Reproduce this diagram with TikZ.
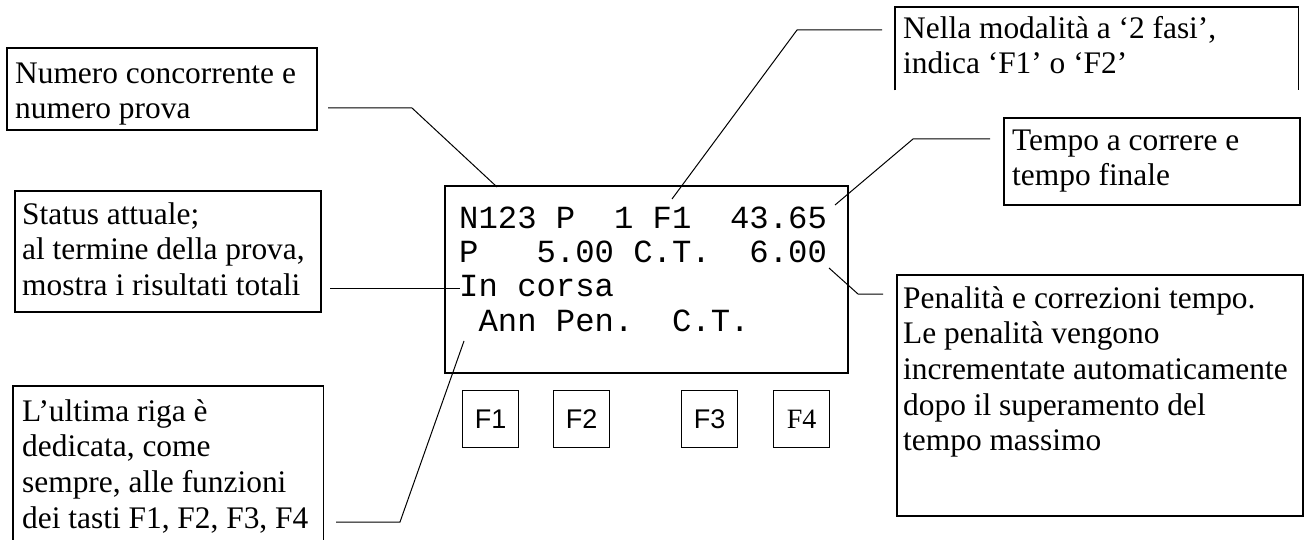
\documentclass[tikz,border=0pt]{standalone}
\usepackage{fontspec}
\setmainfont{Liberation Serif}
\newfontfamily\dispfont{Liberation Mono}
\newfontfamily\keyfont{Liberation Sans}
\usetikzlibrary{calc}
\tikzset{
  lbl/.style={anchor=north west, inner sep=0pt, align=left, font=\fontsize{31.4}{35.6}\selectfont},
  frame/.style={line width=1.8pt},
  boxnode/.style={anchor=north west, inner sep=0pt},
  lead/.style={draw, line width=1pt},
  disp/.style={draw, line width=1.6pt, anchor=north west, inner sep=0pt, minimum width=403pt, minimum height=187pt},
  disptext/.style={anchor=north west, inner sep=0pt, align=left, font=\dispfont\fontsize{32.25}{34.33}\selectfont},
  keybox/.style={draw, line width=1.4pt, anchor=north west, inner sep=0pt, minimum width=56pt, minimum height=57pt, font=\keyfont\fontsize{27}{30}\selectfont},
  keyboxserif/.style={keybox, font=\fontsize{28}{30}\selectfont}
}
\newcommand{\fstrut}{\rule{0pt}{24pt}}
\newcommand{\dstrut}{\rule{0pt}{26pt}}
\begin{document}
\begin{tikzpicture}[x=1pt, y=-1pt]
\useasboundingbox (0,0) rectangle (1306,540);

% Display
\node[disp] (D) at (444,185) {};
\node[disptext] (dt) at (459,202) {\dstrut N123~P~~1~F1~~43.65\\P~~~5.00~C.T.~~6.00\\In~corsa\\~Ann~Pen.~~C.T.};

% Keys
\node[keybox] (k1) at (462,390) {F1};
\node[keybox] (k2) at (553,390) {F2};
\node[keybox] (k3) at (681,390) {F3};
\node[keyboxserif] (k4) at (773,390) {F4};

% Box A
\node[boxnode, draw, frame, minimum width=310pt, minimum height=82pt] (A) at (6,47) {};
\node[lbl] (At) at (15,59) {\fstrut Numero concorrente e\\numero prova};

% Box B
\node[boxnode, draw, frame, minimum width=306pt, minimum height=121pt] (B) at (14,190) {};
\node[lbl] (Bt) at (22,200) {\fstrut Status attuale;\\al termine della prova,\\mostra i risultati totali};

% Box C (open bottom)
\node[boxnode, minimum width=310pt, minimum height=160pt] (C) at (13,386) {};
\draw[frame] (C.south west) -- (C.north west) -- (C.north east) -- (C.south east);
\node[lbl] (Ct) at (22,397) {\fstrut L’ultima riga è\\dedicata, come\\sempre, alle funzioni\\dei tasti F1, F2, F3, F4};

% Box E (Nella..., open bottom)
\node[boxnode, minimum width=403pt, minimum height=83pt] (E) at (895,7) {};
\draw[frame] (E.south west) -- (E.north west) -- (E.north east) -- (E.south east);
\node[lbl] (Et) at (903,14) {\fstrut Nella modalità a ‘2 fasi’,\\indica ‘F1’ o ‘F2’};

% Box F (Tempo)
\node[boxnode, draw, frame, minimum width=296pt, minimum height=87pt] (F) at (1003,117) {};
\node[lbl] (Ft) at (1012,126) {\fstrut Tempo a correre e\\tempo finale};

% Box G (Penalita)
\node[boxnode, draw, frame, minimum width=406pt, minimum height=241pt] (G) at (896,274) {};
\node[lbl] (Gt) at (903,284) {\fstrut Penalità e correzioni tempo.\\Le penalità vengono\\incrementate automaticamente\\dopo il superamento del\\tempo massimo};

% Leader lines
\coordinate (a0) at (328,108); \coordinate (a1) at (412,108); \coordinate (aT) at (497,187);
\draw[lead] (a0) -- (a1) -- (aT);
\coordinate (b0) at (330,288); \coordinate (bT) at (460,288);
\draw[lead] (b0) -- (bT);
\coordinate (c0) at (336,522); \coordinate (c1) at (400,522); \coordinate (cT) at (464,341);
\draw[lead] (c0) -- (c1) -- (cT);
\coordinate (e0) at (882,30); \coordinate (e1) at (797,30); \coordinate (eT) at (672,199);
\draw[lead] (e0) -- (e1) -- (eT);
\coordinate (f0) at (990,139); \coordinate (f1) at (913,139); \coordinate (fT) at (835,205);
\draw[lead] (f0) -- (f1) -- (fT);
\coordinate (g0) at (883,294); \coordinate (g1) at (858,294); \coordinate (gT) at (829,268);
\draw[lead] (g0) -- (g1) -- (gT);
\end{tikzpicture}
\end{document}
